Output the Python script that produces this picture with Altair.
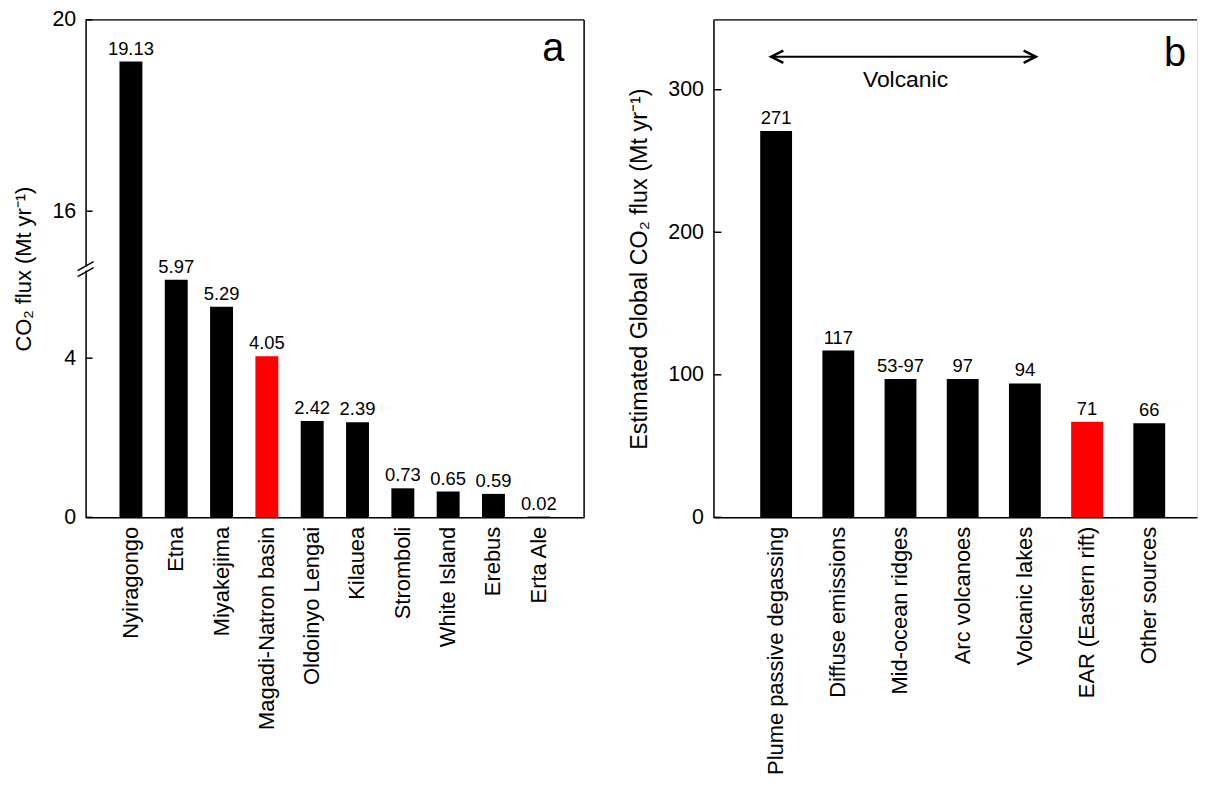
import altair as alt
import pandas as pd

FONT = "Liberation Sans"

# ---------------- data ----------------
sites = ["Nyiragongo", "Etna", "Miyakejima", "Magadi-Natron basin", "Oldoinyo Lengai",
         "Kilauea", "Stromboli", "White Island", "Erebus", "Erta Ale"]
site_flux = [19.13, 5.97, 5.29, 4.05, 2.42, 2.39, 0.73, 0.65, 0.59, 0.02]
site_labels = ["19.13", "5.97", "5.29", "4.05", "2.42", "2.39", "0.73", "0.65", "0.59", "0.02"]
highlight_a = "Magadi-Natron basin"

sources = ["Plume passive degassing", "Diffuse emissions", "Mid-ocean ridges", "Arc volcanoes",
           "Volcanic lakes", "EAR (Eastern rift)", "Other sources"]
source_flux = [271, 117, 97, 97, 94, 67, 66]
source_labels = ["271", "117", "53-97", "97", "94", "71", "66"]
highlight_b = "EAR (Eastern rift)"

ticks_a = [0, 4, 16, 20]
ticks_b = [0, 100, 200, 300]
break_a = [6.25, 14.8]          # broken-axis gap of panel a

title_a = "CO₂ flux (Mt yr⁻¹)"
title_b = "Estimated Global CO₂ flux (Mt yr⁻¹)"

# ---------------- layout ----------------
WA, HA = 501, 500
WB, HB = 486, 500
BRK = 250  # pixel row of the axis break in panel a

df_a = pd.DataFrame({"site": sites, "flux": site_flux, "label": site_labels})
df_b = pd.DataFrame({"source": sources, "flux": source_flux, "label": source_labels})
one = pd.DataFrame({"k": [0]})

ya = alt.Scale(domain=[0, break_a[0], break_a[1], 20], range=[HA, BRK, BRK, 0], nice=False, zero=False)
yb = alt.Scale(domain=[0, 349], nice=False)
xa = alt.Scale(paddingInner=0.494, paddingOuter=0.747)
xb = alt.Scale(paddingInner=0.488, paddingOuter=0.632, align=0.595)

XAXIS = alt.Axis(labelAngle=270, labelFontSize=22, labelPadding=9, ticks=False, title=None,
                 labelLimit=0, domainColor="black", domainWidth=1.5, labelColor="black",
                 labelFont=FONT, grid=False)


def yaxis(vals, title, tsize):
    return alt.Axis(values=vals, ticks=False, labelPadding=10, labelFontSize=21.5,
                    labelColor="black", labelFont=FONT, title=title, titleFontSize=tsize,
                    titleFont=FONT, titleFontWeight="normal", titleColor="black",
                    titlePadding=16, domainColor="black", domainWidth=1.5, grid=False)


YAXIS_A = yaxis(ticks_a, title_a, 22)
YAXIS_B = yaxis(ticks_b, title_b, 23.5)

# ---------------- panel a ----------------
bars_a = alt.Chart(df_a).mark_bar().encode(
    x=alt.X("site:N", sort=None, scale=xa, axis=XAXIS),
    y=alt.Y("flux:Q", scale=ya, axis=YAXIS_A),
    color=alt.condition(alt.datum.site == highlight_a, alt.value("#ff0000"), alt.value("#000000")),
)
text_a = alt.Chart(df_a).mark_text(baseline="alphabetic", dy=-7, fontSize=18.5, font=FONT, color="black").encode(
    x=alt.X("site:N", sort=None, scale=xa, axis=XAXIS),
    y=alt.Y("flux:Q", scale=ya, axis=YAXIS_A),
    text="label:N",
)
tick_a = alt.Chart(pd.DataFrame({"flux": ticks_a})).mark_rule(color="black", strokeWidth=1.5).encode(
    y=alt.Y("flux:Q", scale=ya, axis=YAXIS_A), x=alt.value(0), x2=alt.value(7)
)
top_a = alt.Chart(one).mark_rule(color="black", strokeWidth=1.5).encode(
    x=alt.value(0), x2=alt.value(WA), y=alt.value(0))
right_a = alt.Chart(one).mark_rule(color="black", strokeWidth=1.5).encode(
    x=alt.value(WA), y=alt.value(0), y2=alt.value(HA))
gap_a = alt.Chart(one).mark_rule(color="white", strokeWidth=3).encode(
    x=alt.value(0), y=alt.value(BRK - 2), y2=alt.value(BRK + 2))
brk1 = alt.Chart(one).mark_rule(color="black", strokeWidth=1.5).encode(
    x=alt.value(-8), x2=alt.value(8), y=alt.value(BRK + 2), y2=alt.value(BRK - 7))
brk2 = alt.Chart(one).mark_rule(color="black", strokeWidth=1.5).encode(
    x=alt.value(-8), x2=alt.value(8), y=alt.value(BRK + 8), y2=alt.value(BRK - 1))
letter_a = alt.Chart(pd.DataFrame({"t": ["a"]})).mark_text(
    fontSize=40, font=FONT, baseline="alphabetic", align="center", color="black").encode(
    x=alt.value(470), y=alt.value(41), text="t:N")

panel_a = alt.layer(bars_a, text_a, tick_a, top_a, right_a, gap_a, brk1, brk2, letter_a).properties(
    width=WA, height=HA)

# ---------------- panel b ----------------
bars_b = alt.Chart(df_b).mark_bar().encode(
    x=alt.X("source:N", sort=None, scale=xb, axis=XAXIS),
    y=alt.Y("flux:Q", scale=yb, axis=YAXIS_B),
    color=alt.condition(alt.datum.source == highlight_b, alt.value("#ff0000"), alt.value("#000000")),
)
text_b = alt.Chart(df_b).mark_text(baseline="alphabetic", dy=-7, fontSize=18.5, font=FONT, color="black").encode(
    x=alt.X("source:N", sort=None, scale=xb, axis=XAXIS),
    y=alt.Y("flux:Q", scale=yb, axis=YAXIS_B),
    text="label:N",
)
tick_b = alt.Chart(pd.DataFrame({"flux": ticks_b})).mark_rule(color="black", strokeWidth=1.5).encode(
    y=alt.Y("flux:Q", scale=yb, axis=YAXIS_B), x=alt.value(0), x2=alt.value(8)
)
top_b = alt.Chart(one).mark_rule(color="black", strokeWidth=1.5).encode(
    x=alt.value(0), x2=alt.value(WB), y=alt.value(0))
arrow = alt.Chart(one).mark_rule(color="black", strokeWidth=2).encode(
    x=alt.value(58), x2=alt.value(324), y=alt.value(37))
head_l = alt.Chart(one).mark_point(shape="M 1 -0.5 L 0 0 L 1 0.5", size=600, filled=False,
                                   color="black", strokeWidth=2.5, opacity=1).encode(
    x=alt.value(58), y=alt.value(37))
head_r = alt.Chart(one).mark_point(shape="M -1 -0.5 L 0 0 L -1 0.5", size=600, filled=False,
                                   color="black", strokeWidth=2.5, opacity=1).encode(
    x=alt.value(324), y=alt.value(37))
volc = alt.Chart(pd.DataFrame({"t": ["Volcanic"]})).mark_text(
    fontSize=23, font=FONT, baseline="alphabetic", align="center", color="black").encode(
    x=alt.value(193), y=alt.value(67), text="t:N")
letter_b = alt.Chart(pd.DataFrame({"t": ["b"]})).mark_text(
    fontSize=40, font=FONT, baseline="alphabetic", align="center", color="black").encode(
    x=alt.value(464), y=alt.value(46), text="t:N")

panel_b = alt.layer(bars_b, text_b, tick_b, top_b, arrow, head_l, head_r, volc, letter_b).properties(
    width=WB, height=HB)

chart = alt.hconcat(panel_a, panel_b, spacing=130, bounds="flush").properties(
    padding={"left": 4, "top": -2, "right": 0, "bottom": 0}
).configure_view(stroke=None).configure(background="white")

chart.save("out.html", embed_options={"renderer": "svg", "actions": False})
